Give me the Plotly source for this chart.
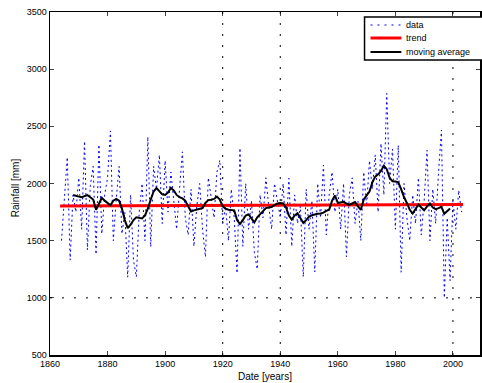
import plotly.graph_objects as go

years = list(range(1864, 2004))
rainfall = [
    1500, 1850, 2230, 1330, 1900, 1750, 2050, 1600, 2370, 1420,
    1980, 2150, 1380, 2340, 1560, 1900, 2050, 2460, 1500, 1860,
    2150, 1560, 1750, 1180, 1900, 1330, 1183, 1750, 2000, 1500,
    2408, 1445, 2150, 1950, 2250, 1650, 2200, 1750, 2100, 1850,
    1600, 1950, 2277, 1700, 1550, 1950, 1450, 1800, 2000, 1600,
    1357, 2050, 1850, 1700, 2100, 2204, 1650, 1800, 1500, 1950,
    1700, 1215, 2310, 1450, 2000, 1600, 1850, 1400, 1250, 1900,
    1700, 2050, 1800, 1600, 2000, 1850, 1700, 2000, 1550, 2046,
    1450, 1900, 1650, 1800, 1183, 1950, 1600, 1850, 1226, 2000,
    1700, 2160, 1550, 1900, 2100, 1750, 1950, 1600, 2000, 1358,
    1900, 2050, 1650, 1850, 1500, 2100, 1800, 2200, 1950, 2250,
    1750, 2350, 1900, 2788, 2000, 2300, 1600, 2335, 1224, 2000,
    1700, 1500, 1900, 1650, 2050, 1550, 1850, 2292, 1500, 1950,
    1650, 2100, 2467, 1000, 1700, 1150, 1850, 1600, 1940, 1750,
]

ma_years = list(range(1868, 2000))
moving_avg = [
    1900, 1890, 1885, 1880, 1890, 1898, 1880, 1860, 1770, 1820,
    1875, 1850, 1830, 1810, 1850, 1865, 1850, 1780, 1680, 1610,
    1640, 1680, 1705, 1700, 1695, 1720, 1780, 1860, 1930, 1960,
    1930, 1905, 1900, 1920, 1960, 1940, 1900, 1880, 1870, 1850,
    1800, 1755, 1765, 1772, 1778, 1785, 1830, 1855, 1858, 1865,
    1885, 1860, 1800, 1780, 1770, 1770, 1765, 1680, 1645, 1680,
    1720, 1730, 1690, 1660, 1705, 1730, 1760, 1785, 1790, 1795,
    1810, 1825, 1830, 1825, 1790, 1720, 1685, 1720, 1740, 1700,
    1655, 1680, 1710, 1722, 1730, 1735, 1737, 1745, 1760, 1770,
    1850, 1895, 1830, 1835, 1840, 1825, 1812, 1825, 1838, 1800,
    1770, 1860, 1900, 1930, 2010, 2060, 2080, 2110, 2155, 2125,
    2050, 2020, 2018, 2010, 1950, 1880, 1830, 1770, 1737, 1780,
    1815, 1790, 1766, 1800, 1825, 1790, 1775, 1785, 1796, 1735,
    1755, 1781,
]

trend_years = [1863.5, 2003.5]
trend_vals = [1803, 1816]

ref_h = 1000
ref_v = [1920, 1940, 2000]

x_ticks = [1860, 1880, 1900, 1920, 1940, 1960, 1980, 2000]
y_ticks = [500, 1000, 1500, 2000, 2500, 3000, 3500]

legend_names = ["data", "trend", "moving average"]

DATA_LINE = dict(color="#0000ff", width=1, dash="2px,3px")
TREND_LINE = dict(color="#ff0000", width=3)
MA_LINE = dict(color="black", width=2)

fig = go.Figure()
fig.add_trace(go.Scatter(x=years, y=rainfall, mode="lines", name=legend_names[0],
                         line=DATA_LINE, showlegend=False, hoverinfo="skip"))
fig.add_trace(go.Scatter(x=trend_years, y=trend_vals, mode="lines", name=legend_names[1],
                         line=TREND_LINE, showlegend=False, hoverinfo="skip"))
fig.add_trace(go.Scatter(x=ma_years, y=moving_avg, mode="lines", name=legend_names[2],
                         line=MA_LINE, showlegend=False, hoverinfo="skip"))

fig.add_shape(type="line", xref="paper", yref="y", x0=0, x1=1, y0=ref_h, y1=ref_h,
              line=dict(color="black", width=1, dash="2px,10px"))
for v in ref_v:
    fig.add_shape(type="line", xref="x", yref="paper", x0=v, x1=v, y0=0, y1=1,
                  line=dict(color="black", width=1, dash="2px,9px"))

# pixel layout of the plot area -> paper coords
PL, PW, PB, PH = 50, 432, 355, 343
def px(x):
    return (x - PL) / PW
def py(y):
    return (PB - y) / PH

fig.add_shape(type="rect", xref="paper", yref="paper",
              x0=px(366), x1=px(490), y0=py(60), y1=py(17),
              line=dict(color="black", width=1.5), fillcolor="white", layer="above")
rows = [25, 38, 52]
styles = [dict(color="#0000ff", width=1, dash="2px,5px"), TREND_LINE, MA_LINE]
for name, yy, st in zip(legend_names, rows, styles):
    fig.add_shape(type="line", xref="paper", yref="paper",
                  x0=px(372), x1=px(403), y0=py(yy), y1=py(yy), line=st, layer="above")
    fig.add_annotation(text=name, xref="paper", yref="paper", x=px(406), y=py(yy),
                       xanchor="left", yanchor="middle", showarrow=False,
                       font=dict(size=9))

fig.add_annotation(text="Date [years]", xref="paper", yref="paper", x=0.5, y=py(376),
                   xanchor="center", yanchor="middle", showarrow=False,
                   font=dict(size=10))
fig.add_annotation(text="Rainfall [mm]", xref="paper", yref="paper", x=px(15), y=py(188),
                   xanchor="center", yanchor="middle", showarrow=False, textangle=-90,
                   font=dict(size=10))

font = dict(family="Liberation Sans, Arial, sans-serif", size=10, color="black")
fig.update_layout(
    width=482, height=383,
    margin=dict(l=50, r=0, t=12, b=28),
    paper_bgcolor="white", plot_bgcolor="white",
    font=font,
    showlegend=False,
    hovermode=False,
)
fig.update_xaxes(range=[1860, 2009.4], tickvals=x_ticks, ticks="inside", ticklen=4,
                 showline=True, linecolor="black", linewidth=1.5, mirror="ticks",
                 showgrid=False, zeroline=False, tickfont=dict(size=9))
fig.update_yaxes(range=[500, 3500], tickvals=y_ticks, ticks="inside", ticklen=4,
                 showline=True, linecolor="black", linewidth=1.5, mirror="ticks",
                 showgrid=False, zeroline=False, tickfont=dict(size=9))

fig.write_html("out.html", config={"displayModeBar": False, "staticPlot": True},
               post_script="document.body.style.margin='0px';document.body.style.overflow='hidden';")
